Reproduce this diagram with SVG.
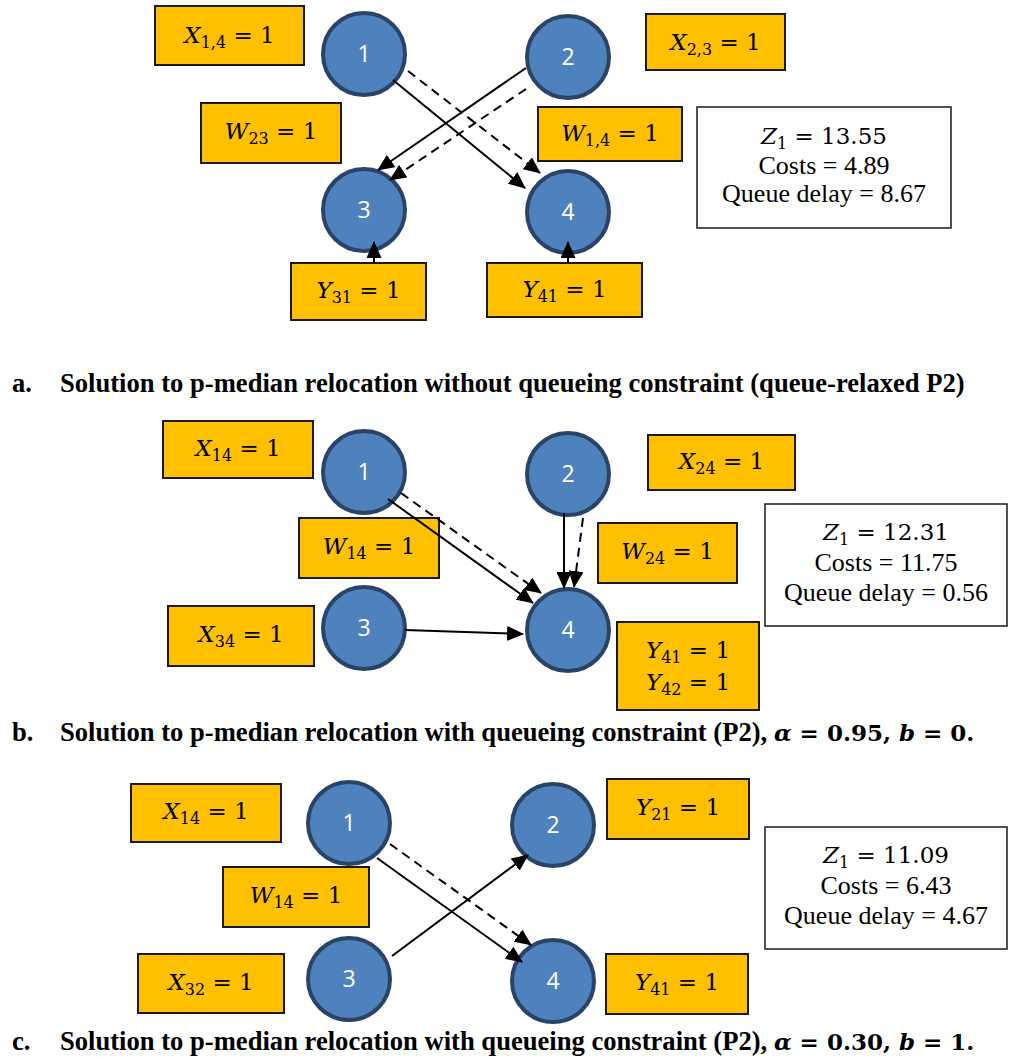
<svg xmlns="http://www.w3.org/2000/svg" width="1009" height="1057" viewBox="0 0 1009 1057">
<style>
.box{fill:#FFC000;stroke:#1a1a1a;stroke-width:2}
.res{fill:#fff;stroke:#1a1a1a;stroke-width:1.5}
.node{fill:#4F81BD;stroke:#2A4468;stroke-width:4}
.nt{font-family:"Open Sans","Liberation Sans",sans-serif;font-size:23px;fill:#fff;text-anchor:middle}
.m{font-family:"DejaVu Serif","Liberation Serif",serif;font-size:23px;fill:#000;text-anchor:middle}
.v{font-style:italic}
.s{font-size:16px}
.r{font-family:"Liberation Serif","Times New Roman",serif;font-size:26px;fill:#000;text-anchor:middle}
.cap{font-family:"Liberation Serif","Times New Roman",serif;font-size:26.6px;font-weight:bold;fill:#000}
.cm{font-family:"DejaVu Serif","Liberation Serif",serif;font-weight:bold;font-size:23px}
.ln{stroke:#000;stroke-width:2;fill:none;marker-end:url(#ah)}
.dash{stroke-dasharray:9,6}
</style>
<defs>
<marker id="ah" markerUnits="userSpaceOnUse" markerWidth="17" markerHeight="15" refX="16" refY="7.5" orient="auto">
<path d="M0,0 L17,7.5 L0,15 z" fill="#000"/>
</marker>
</defs>

<!-- Panel a -->
<g id="a-X14"><rect class="box" x="155" y="6" width="149" height="59"/><text class="m" x="229.5" y="43"><tspan class="v">X</tspan><tspan class="s" dy="5">1,4</tspan><tspan dy="-5"> = 1</tspan></text></g>
<g id="a-X23"><rect class="box" x="646" y="14" width="139" height="56"/><text class="m" x="715.5" y="50"><tspan class="v">X</tspan><tspan class="s" dy="5">2,3</tspan><tspan dy="-5"> = 1</tspan></text></g>
<g id="a-W23"><rect class="box" x="201" y="103" width="140" height="60"/><text class="m" x="271" y="139"><tspan class="v">W</tspan><tspan class="s" dy="5">23</tspan><tspan dy="-5"> = 1</tspan></text></g>
<g id="a-W14"><rect class="box" x="538" y="107" width="144" height="54"/><text class="m" x="610" y="141"><tspan class="v">W</tspan><tspan class="s" dy="5">1,4</tspan><tspan dy="-5"> = 1</tspan></text></g>
<g id="a-Y31"><rect class="box" x="291" y="263" width="135" height="57"/><text class="m" x="358.5" y="298"><tspan class="v">Y</tspan><tspan class="s" dy="5">31</tspan><tspan dy="-5"> = 1</tspan></text></g>
<g id="a-Y41"><rect class="box" x="487" y="263" width="155" height="54"/><text class="m" x="564.5" y="297"><tspan class="v">Y</tspan><tspan class="s" dy="5">41</tspan><tspan dy="-5"> = 1</tspan></text></g>
<g id="a-result"><rect class="res" x="697" y="107" width="254" height="121"/>
<text class="m" x="824" y="144"><tspan class="v">Z</tspan><tspan class="s" dy="5">1</tspan><tspan dy="-5"> = 13.55</tspan></text>
<text class="r" x="824" y="174">Costs = 4.89</text>
<text class="r" x="824" y="202">Queue delay = 8.67</text></g>
<g id="a-n1"><circle class="node" cx="364" cy="54" r="41"/><text class="nt" x="364" y="62">1</text></g>
<g id="a-n2"><circle class="node" cx="568" cy="57" r="41"/><text class="nt" x="568" y="65">2</text></g>
<g id="a-n3"><circle class="node" cx="364" cy="210" r="41"/><text class="nt" x="364" y="218">3</text></g>
<g id="a-n4"><circle class="node" cx="568" cy="212" r="41"/><text class="nt" x="568" y="220">4</text></g>
<text class="cap" x="12" y="392">a.</text>
<text class="cap" x="60" y="392">Solution to p-median relocation without queueing constraint (queue-relaxed P2)</text>

<!-- Panel b -->
<g id="b-X14"><rect class="box" x="163" y="421" width="150" height="57"/><text class="m" x="238" y="456"><tspan class="v">X</tspan><tspan class="s" dy="5">14</tspan><tspan dy="-5"> = 1</tspan></text></g>
<g id="b-X24"><rect class="box" x="648" y="435" width="147" height="55"/><text class="m" x="721.5" y="469"><tspan class="v">X</tspan><tspan class="s" dy="5">24</tspan><tspan dy="-5"> = 1</tspan></text></g>
<g id="b-W14"><rect class="box" x="299" y="518" width="140" height="60"/><text class="m" x="369" y="554"><tspan class="v">W</tspan><tspan class="s" dy="5">14</tspan><tspan dy="-5"> = 1</tspan></text></g>
<g id="b-W24"><rect class="box" x="598" y="523" width="139" height="60"/><text class="m" x="667.5" y="559"><tspan class="v">W</tspan><tspan class="s" dy="5">24</tspan><tspan dy="-5"> = 1</tspan></text></g>
<g id="b-X34"><rect class="box" x="168" y="606" width="146" height="60"/><text class="m" x="241" y="642"><tspan class="v">X</tspan><tspan class="s" dy="5">34</tspan><tspan dy="-5"> = 1</tspan></text></g>
<g id="b-Y4"><rect class="box" x="617" y="622" width="142" height="88"/>
<text class="m" x="688" y="658"><tspan class="v">Y</tspan><tspan class="s" dy="5">41</tspan><tspan dy="-5"> = 1</tspan></text>
<text class="m" x="688" y="690"><tspan class="v">Y</tspan><tspan class="s" dy="5">42</tspan><tspan dy="-5"> = 1</tspan></text></g>
<g id="b-result"><rect class="res" x="765" y="504" width="242" height="122"/>
<text class="m" x="886" y="540"><tspan class="v">Z</tspan><tspan class="s" dy="5">1</tspan><tspan dy="-5"> = 12.31</tspan></text>
<text class="r" x="886" y="571">Costs = 11.75</text>
<text class="r" x="886" y="601">Queue delay = 0.56</text></g>
<g id="b-n1"><circle class="node" cx="364" cy="472" r="41"/><text class="nt" x="364" y="480">1</text></g>
<g id="b-n2"><circle class="node" cx="568" cy="474" r="41"/><text class="nt" x="568" y="482">2</text></g>
<g id="b-n3"><circle class="node" cx="364" cy="628" r="41"/><text class="nt" x="364" y="636">3</text></g>
<g id="b-n4"><circle class="node" cx="568" cy="630" r="41"/><text class="nt" x="568" y="638">4</text></g>
<text class="cap" x="12" y="741">b.</text>
<text class="cap" x="60" y="741">Solution to p-median relocation with queueing constraint (P2), <tspan class="cm" font-style="italic">α</tspan><tspan class="cm"> = 0.95, </tspan><tspan class="cm" font-style="italic">b</tspan><tspan class="cm"> = 0.</tspan></text>

<!-- Panel c -->
<g id="c-X14"><rect class="box" x="131" y="784" width="150" height="58"/><text class="m" x="206" y="819"><tspan class="v">X</tspan><tspan class="s" dy="5">14</tspan><tspan dy="-5"> = 1</tspan></text></g>
<g id="c-W14"><rect class="box" x="223" y="867" width="146" height="60"/><text class="m" x="296" y="903"><tspan class="v">W</tspan><tspan class="s" dy="5">14</tspan><tspan dy="-5"> = 1</tspan></text></g>
<g id="c-X32"><rect class="box" x="138" y="954" width="146" height="59"/><text class="m" x="211" y="990"><tspan class="v">X</tspan><tspan class="s" dy="5">32</tspan><tspan dy="-5"> = 1</tspan></text></g>
<g id="c-Y21"><rect class="box" x="607" y="779" width="142" height="60"/><text class="m" x="678" y="815"><tspan class="v">Y</tspan><tspan class="s" dy="5">21</tspan><tspan dy="-5"> = 1</tspan></text></g>
<g id="c-Y41"><rect class="box" x="606" y="954" width="142" height="60"/><text class="m" x="677" y="990"><tspan class="v">Y</tspan><tspan class="s" dy="5">41</tspan><tspan dy="-5"> = 1</tspan></text></g>
<g id="c-result"><rect class="res" x="765" y="827" width="242" height="122"/>
<text class="m" x="886" y="863"><tspan class="v">Z</tspan><tspan class="s" dy="5">1</tspan><tspan dy="-5"> = 11.09</tspan></text>
<text class="r" x="886" y="894">Costs = 6.43</text>
<text class="r" x="886" y="924">Queue delay = 4.67</text></g>
<g id="c-n1"><circle class="node" cx="349" cy="823" r="41"/><text class="nt" x="349" y="831">1</text></g>
<g id="c-n2"><circle class="node" cx="553" cy="825" r="41"/><text class="nt" x="553" y="833">2</text></g>
<g id="c-n3"><circle class="node" cx="349" cy="979" r="41"/><text class="nt" x="349" y="987">3</text></g>
<g id="c-n4"><circle class="node" cx="553" cy="981" r="41"/><text class="nt" x="553" y="989">4</text></g>
<text class="cap" x="12" y="1050">c.</text>
<text class="cap" x="60" y="1050">Solution to p-median relocation with queueing constraint (P2), <tspan class="cm" font-style="italic">α</tspan><tspan class="cm"> = 0.30, </tspan><tspan class="cm" font-style="italic">b</tspan><tspan class="cm"> = 1.</tspan></text>

<!-- Connectors -->
<g id="connectors">
<line class="ln" x1="393" y1="80" x2="525" y2="188"/>
<line class="ln dash" x1="408" y1="71" x2="540" y2="173"/>
<line class="ln" x1="526" y1="68" x2="378" y2="170"/>
<line class="ln dash" x1="526" y1="89" x2="390" y2="180"/>
<line class="ln" x1="374" y1="263" x2="374" y2="242"/>
<line class="ln" x1="568" y1="263" x2="568" y2="242"/>

<line class="ln" x1="388" y1="499" x2="533" y2="603"/>
<line class="ln dash" x1="401" y1="493" x2="541" y2="593"/>
<line class="ln" x1="564" y1="513" x2="564" y2="588"/>
<line class="ln dash" x1="583" y1="518" x2="574" y2="587"/>
<line class="ln" x1="405" y1="630" x2="523" y2="634"/>

<line class="ln" x1="377" y1="858" x2="522" y2="962"/>
<line class="ln dash" x1="390" y1="844" x2="531" y2="945"/>
<line class="ln" x1="392" y1="956" x2="528" y2="855"/>
</g>
</svg>
